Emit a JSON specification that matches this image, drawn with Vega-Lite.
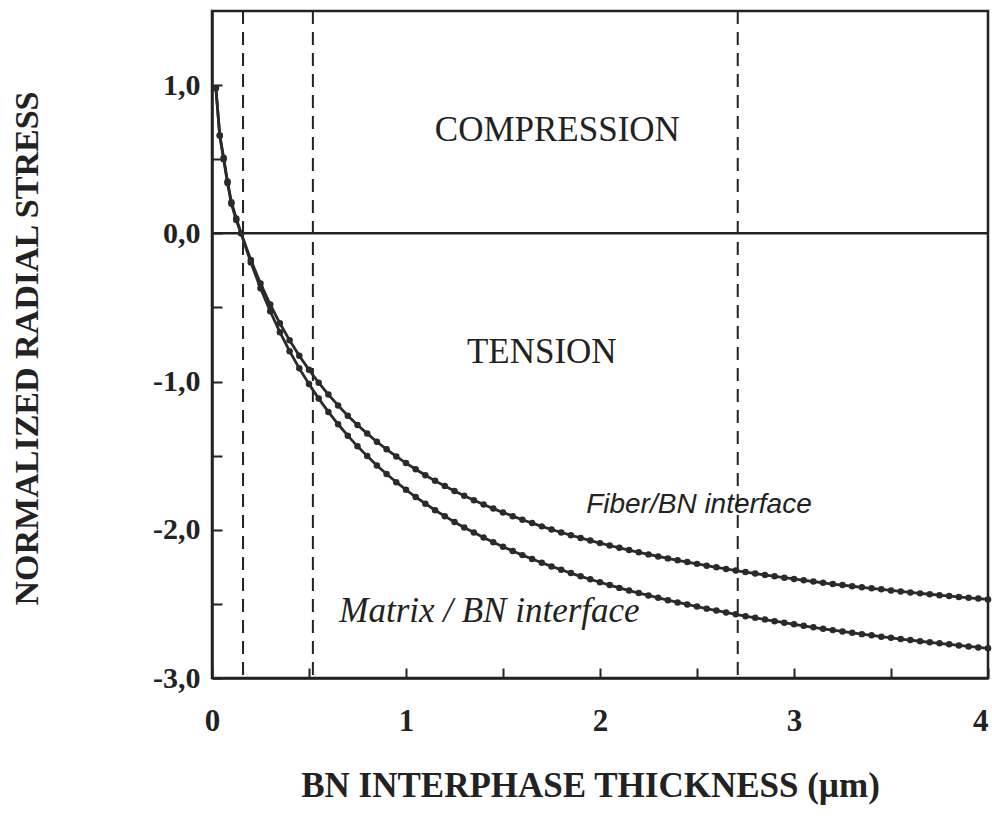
{
  "$schema": "https://vega.github.io/schema/vega-lite/v6.json",
  "width": 776,
  "height": 667,
  "autosize": {"type": "none"},
  "padding": {"left": 212, "top": 11, "right": 4, "bottom": 148},
  "background": "white",
  "config": {
    "view": {"stroke": "#222", "strokeWidth": 2.5},
    "axis": {"grid": false, "domainColor": "#222", "domainWidth": 2.5, "tickColor": "#222", "tickWidth": 2, "labelColor": "#222", "titleColor": "#222"}
  },
  "datasets": {
    "curves": [
      {"s": "F", "x": 0.02, "y": 0.98}, {"s": "F", "x": 0.04, "y": 0.66}, {"s": "F", "x": 0.06, "y": 0.5}, {"s": "F", "x": 0.08, "y": 0.34}, {"s": "F", "x": 0.1, "y": 0.2}, {"s": "F", "x": 0.125, "y": 0.09}, {"s": "F", "x": 0.15, "y": 0.0},
      {"s": "F", "x": 0.2, "y": -0.179}, {"s": "F", "x": 0.25, "y": -0.338}, {"s": "F", "x": 0.3, "y": -0.48}, {"s": "F", "x": 0.35, "y": -0.607}, {"s": "F", "x": 0.4, "y": -0.722}, {"s": "F", "x": 0.45, "y": -0.826}, {"s": "F", "x": 0.5, "y": -0.921}, {"s": "F", "x": 0.55, "y": -1.008}, {"s": "F", "x": 0.6, "y": -1.088}, {"s": "F", "x": 0.65, "y": -1.161}, {"s": "F", "x": 0.7, "y": -1.23}, {"s": "F", "x": 0.75, "y": -1.293}, {"s": "F", "x": 0.8, "y": -1.351}, {"s": "F", "x": 0.85, "y": -1.406}, {"s": "F", "x": 0.9, "y": -1.457}, {"s": "F", "x": 0.95, "y": -1.505},
      {"s": "F", "x": 1.0, "y": -1.55}, {"s": "F", "x": 1.05, "y": -1.592}, {"s": "F", "x": 1.1, "y": -1.632}, {"s": "F", "x": 1.15, "y": -1.67}, {"s": "F", "x": 1.2, "y": -1.705}, {"s": "F", "x": 1.25, "y": -1.739}, {"s": "F", "x": 1.3, "y": -1.771}, {"s": "F", "x": 1.35, "y": -1.801}, {"s": "F", "x": 1.4, "y": -1.83}, {"s": "F", "x": 1.45, "y": -1.857}, {"s": "F", "x": 1.5, "y": -1.883}, {"s": "F", "x": 1.55, "y": -1.908}, {"s": "F", "x": 1.6, "y": -1.932}, {"s": "F", "x": 1.65, "y": -1.955}, {"s": "F", "x": 1.7, "y": -1.977}, {"s": "F", "x": 1.75, "y": -1.998}, {"s": "F", "x": 1.8, "y": -2.018}, {"s": "F", "x": 1.85, "y": -2.037}, {"s": "F", "x": 1.9, "y": -2.055}, {"s": "F", "x": 1.95, "y": -2.073},
      {"s": "F", "x": 2.0, "y": -2.09}, {"s": "F", "x": 2.05, "y": -2.106}, {"s": "F", "x": 2.1, "y": -2.122}, {"s": "F", "x": 2.15, "y": -2.137}, {"s": "F", "x": 2.2, "y": -2.152}, {"s": "F", "x": 2.25, "y": -2.166}, {"s": "F", "x": 2.3, "y": -2.18}, {"s": "F", "x": 2.35, "y": -2.193}, {"s": "F", "x": 2.4, "y": -2.206}, {"s": "F", "x": 2.45, "y": -2.218}, {"s": "F", "x": 2.5, "y": -2.23}, {"s": "F", "x": 2.55, "y": -2.242}, {"s": "F", "x": 2.6, "y": -2.253}, {"s": "F", "x": 2.65, "y": -2.264}, {"s": "F", "x": 2.7, "y": -2.275}, {"s": "F", "x": 2.75, "y": -2.285}, {"s": "F", "x": 2.8, "y": -2.295}, {"s": "F", "x": 2.85, "y": -2.305}, {"s": "F", "x": 2.9, "y": -2.314}, {"s": "F", "x": 2.95, "y": -2.323},
      {"s": "F", "x": 3.0, "y": -2.332}, {"s": "F", "x": 3.05, "y": -2.341}, {"s": "F", "x": 3.1, "y": -2.349}, {"s": "F", "x": 3.15, "y": -2.358}, {"s": "F", "x": 3.2, "y": -2.366}, {"s": "F", "x": 3.25, "y": -2.373}, {"s": "F", "x": 3.3, "y": -2.381}, {"s": "F", "x": 3.35, "y": -2.388}, {"s": "F", "x": 3.4, "y": -2.395}, {"s": "F", "x": 3.45, "y": -2.402}, {"s": "F", "x": 3.5, "y": -2.409}, {"s": "F", "x": 3.55, "y": -2.416}, {"s": "F", "x": 3.6, "y": -2.423}, {"s": "F", "x": 3.65, "y": -2.429}, {"s": "F", "x": 3.7, "y": -2.435}, {"s": "F", "x": 3.75, "y": -2.441}, {"s": "F", "x": 3.8, "y": -2.447}, {"s": "F", "x": 3.85, "y": -2.453}, {"s": "F", "x": 3.9, "y": -2.459}, {"s": "F", "x": 3.95, "y": -2.464}, {"s": "F", "x": 4.0, "y": -2.47},
      {"s": "M", "x": 0.02, "y": 0.98}, {"s": "M", "x": 0.04, "y": 0.66}, {"s": "M", "x": 0.06, "y": 0.51}, {"s": "M", "x": 0.08, "y": 0.35}, {"s": "M", "x": 0.1, "y": 0.21}, {"s": "M", "x": 0.125, "y": 0.1}, {"s": "M", "x": 0.15, "y": 0.0},
      {"s": "M", "x": 0.2, "y": -0.196}, {"s": "M", "x": 0.25, "y": -0.37}, {"s": "M", "x": 0.3, "y": -0.526}, {"s": "M", "x": 0.35, "y": -0.667}, {"s": "M", "x": 0.4, "y": -0.795}, {"s": "M", "x": 0.45, "y": -0.911}, {"s": "M", "x": 0.5, "y": -1.017}, {"s": "M", "x": 0.55, "y": -1.115}, {"s": "M", "x": 0.6, "y": -1.205}, {"s": "M", "x": 0.65, "y": -1.288}, {"s": "M", "x": 0.7, "y": -1.365}, {"s": "M", "x": 0.75, "y": -1.437}, {"s": "M", "x": 0.8, "y": -1.503}, {"s": "M", "x": 0.85, "y": -1.566}, {"s": "M", "x": 0.9, "y": -1.624}, {"s": "M", "x": 0.95, "y": -1.679},
      {"s": "M", "x": 1.0, "y": -1.73}, {"s": "M", "x": 1.05, "y": -1.779}, {"s": "M", "x": 1.1, "y": -1.824}, {"s": "M", "x": 1.15, "y": -1.868}, {"s": "M", "x": 1.2, "y": -1.908}, {"s": "M", "x": 1.25, "y": -1.947}, {"s": "M", "x": 1.3, "y": -1.984}, {"s": "M", "x": 1.35, "y": -2.019}, {"s": "M", "x": 1.4, "y": -2.052}, {"s": "M", "x": 1.45, "y": -2.084}, {"s": "M", "x": 1.5, "y": -2.114}, {"s": "M", "x": 1.55, "y": -2.143}, {"s": "M", "x": 1.6, "y": -2.171}, {"s": "M", "x": 1.65, "y": -2.197}, {"s": "M", "x": 1.7, "y": -2.222}, {"s": "M", "x": 1.75, "y": -2.247}, {"s": "M", "x": 1.8, "y": -2.27}, {"s": "M", "x": 1.85, "y": -2.292}, {"s": "M", "x": 1.9, "y": -2.314}, {"s": "M", "x": 1.95, "y": -2.334},
      {"s": "M", "x": 2.0, "y": -2.354}, {"s": "M", "x": 2.05, "y": -2.373}, {"s": "M", "x": 2.1, "y": -2.392}, {"s": "M", "x": 2.15, "y": -2.41}, {"s": "M", "x": 2.2, "y": -2.427}, {"s": "M", "x": 2.25, "y": -2.443}, {"s": "M", "x": 2.3, "y": -2.459}, {"s": "M", "x": 2.35, "y": -2.475}, {"s": "M", "x": 2.4, "y": -2.49}, {"s": "M", "x": 2.45, "y": -2.504}, {"s": "M", "x": 2.5, "y": -2.518}, {"s": "M", "x": 2.55, "y": -2.532}, {"s": "M", "x": 2.6, "y": -2.545}, {"s": "M", "x": 2.65, "y": -2.558}, {"s": "M", "x": 2.7, "y": -2.57}, {"s": "M", "x": 2.75, "y": -2.583}, {"s": "M", "x": 2.8, "y": -2.594}, {"s": "M", "x": 2.85, "y": -2.606}, {"s": "M", "x": 2.9, "y": -2.617}, {"s": "M", "x": 2.95, "y": -2.627},
      {"s": "M", "x": 3.0, "y": -2.638}, {"s": "M", "x": 3.05, "y": -2.648}, {"s": "M", "x": 3.1, "y": -2.658}, {"s": "M", "x": 3.15, "y": -2.668}, {"s": "M", "x": 3.2, "y": -2.677}, {"s": "M", "x": 3.25, "y": -2.686}, {"s": "M", "x": 3.3, "y": -2.695}, {"s": "M", "x": 3.35, "y": -2.704}, {"s": "M", "x": 3.4, "y": -2.712}, {"s": "M", "x": 3.45, "y": -2.721}, {"s": "M", "x": 3.5, "y": -2.729}, {"s": "M", "x": 3.55, "y": -2.737}, {"s": "M", "x": 3.6, "y": -2.744}, {"s": "M", "x": 3.65, "y": -2.752}, {"s": "M", "x": 3.7, "y": -2.759}, {"s": "M", "x": 3.75, "y": -2.766}, {"s": "M", "x": 3.8, "y": -2.773}, {"s": "M", "x": 3.85, "y": -2.78}, {"s": "M", "x": 3.9, "y": -2.787}, {"s": "M", "x": 3.95, "y": -2.794}, {"s": "M", "x": 4.0, "y": -2.8}
    ],
    "vlines": [{"x": 0.16}, {"x": 0.52}, {"x": 2.71}],
    "hline": [{"y": 0}]
  },
  "layer": [
    {
      "data": {"name": "vlines"},
      "mark": {"type": "rule", "color": "#222", "strokeWidth": 2, "strokeDash": [13, 8]},
      "encoding": {
        "x": {
          "field": "x", "type": "quantitative",
          "scale": {"domain": [0, 4], "nice": false, "zero": false},
          "axis": {
            "values": [0, 0.5, 1, 1.5, 2, 2.5, 3, 3.5, 4],
            "tickSize": -10,
            "labelPadding": 38,
            "labelExpr": "datum.value % 1 == 0 ? format(datum.value, 'd') : ''",
            "labelAlign": {"expr": "datum.value == 4 ? 'right' : 'center'"},
            "labelFont": "Liberation Serif", "labelFontWeight": "bold", "labelFontSize": 31,
            "labelFlush": false,
            "title": "BN INTERPHASE THICKNESS (µm)",
            "titleFont": "Liberation Serif", "titleFontWeight": "bold", "titleFontSize": 35,
            "titleX": 378, "titleY": 107, "titleBaseline": "middle", "titleAnchor": null
          }
        }
      }
    },
    {
      "data": {"name": "hline"},
      "mark": {"type": "rule", "color": "#222", "strokeWidth": 2.5},
      "encoding": {
        "y": {
          "field": "y", "type": "quantitative",
          "scale": {"domain": [-3, 1.5], "nice": false, "zero": false},
          "axis": {
            "values": [-3, -2.5, -2, -1.5, -1, -0.5, 0, 0.5, 1],
            "tickSize": -10,
            "labelPadding": 22,
            "labelExpr": "datum.value % 1 == 0 ? (datum.value < 0 ? '-' : '') + replace(format(abs(datum.value), '.1f'), '.', ',') : ''",
            "labelFont": "Liberation Serif", "labelFontWeight": "bold", "labelFontSize": 30,
            "labelFlush": false,
            "title": "NORMALIZED RADIAL STRESS",
            "titleFont": "Liberation Serif", "titleFontWeight": "bold", "titleFontSize": 34,
            "titleX": -185, "titleY": 337, "titleAngle": -90, "titleBaseline": "middle", "titleAlign": "center"
          }
        }
      }
    },
    {
      "data": {"name": "curves"},
      "mark": {"type": "line", "color": "#2a2a2a", "strokeWidth": 2.8, "point": {"filled": true, "size": 42, "color": "#2a2a2a"}},
      "encoding": {
        "x": {"field": "x", "type": "quantitative"},
        "y": {"field": "y", "type": "quantitative"},
        "detail": {"field": "s"},
        "order": {"field": "x"}
      }
    },
    {
      "data": {"values": [{"t": "COMPRESSION", "x": 1.78, "y": 0.7}, {"t": "TENSION", "x": 1.7, "y": -0.8}]},
      "mark": {"type": "text", "font": "Liberation Serif", "fontSize": 35, "color": "#222", "align": "center", "baseline": "middle"},
      "encoding": {"x": {"field": "x", "type": "quantitative"}, "y": {"field": "y", "type": "quantitative"}, "text": {"field": "t"}}
    },
    {
      "data": {"values": [{"t": "Fiber/BN interface", "x": 2.51, "y": -1.83}]},
      "mark": {"type": "text", "font": "Liberation Sans", "fontStyle": "italic", "fontSize": 28, "color": "#222", "align": "center", "baseline": "middle"},
      "encoding": {"x": {"field": "x", "type": "quantitative"}, "y": {"field": "y", "type": "quantitative"}, "text": {"field": "t"}}
    },
    {
      "data": {"values": [{"t": "Matrix / BN interface", "x": 1.43, "y": -2.55}]},
      "mark": {"type": "text", "font": "Liberation Serif", "fontStyle": "italic", "fontSize": 35, "color": "#222", "align": "center", "baseline": "middle"},
      "encoding": {"x": {"field": "x", "type": "quantitative"}, "y": {"field": "y", "type": "quantitative"}, "text": {"field": "t"}}
    }
  ]
}
